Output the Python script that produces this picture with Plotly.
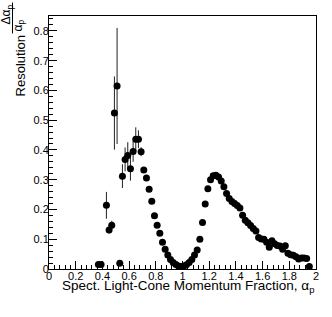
import plotly.graph_objects as go

alpha = [0.37,0.39,0.43,0.45,0.47,0.49,0.51,0.53,0.55,0.57,0.59,0.61,0.63,0.65,0.67,0.69,0.71,0.73,0.75,0.77,
         0.79,0.81,0.83,0.85,0.87,0.89,0.91,0.93,0.95,0.97,0.99,1.01,1.03,1.05,1.07,1.09,1.11,1.13,1.15,1.17,
         1.19,1.21,1.23,1.25,1.27,1.29,1.31,1.33,1.35,1.37,1.39,1.41,1.43,1.45,1.47,1.49,1.51,1.53,1.55,1.57,
         1.59,1.61,1.63,1.65,1.67,1.69,1.71,1.73,1.75,1.77,1.79,1.81,1.83,1.85,1.87,1.89,1.91,1.93,1.95]
resolution = [0.015,0.015,0.214,0.131,0.147,0.524,0.615,0.019,0.312,0.368,0.381,0.337,0.395,0.436,0.436,0.394,0.333,0.306,0.268,0.228,
              0.179,0.147,0.120,0.090,0.066,0.047,0.032,0.022,0.015,0.010,0.008,0.010,0.014,0.022,0.032,0.047,0.064,0.100,0.156,0.218,
              0.270,0.300,0.313,0.315,0.309,0.296,0.276,0.254,0.237,0.227,0.220,0.213,0.205,0.181,0.164,0.155,0.146,0.136,0.128,0.106,
              0.101,0.100,0.090,0.073,0.095,0.085,0.079,0.077,0.066,0.078,0.053,0.048,0.046,0.041,0.034,0.037,0.037,0.035,0.008]
errors = [0.003,0.003,0.045,0.012,0.015,0.123,0.195,0.003,0.040,0.040,0.045,0.040,0.035,0.040,0.030,0.015,0.008,0.006,0.005,0.004,
          0.003,0.003,0.003,0.003,0.002,0.002,0.002,0.002,0.002,0.002,0.002,0.002,0.002,0.002,0.002,0.002,0.002,0.003,0.003,0.003,
          0.003,0.003,0.003,0.003,0.003,0.003,0.003,0.003,0.003,0.003,0.003,0.003,0.003,0.003,0.003,0.003,0.003,0.003,0.003,0.003,
          0.003,0.003,0.003,0.003,0.003,0.003,0.003,0.003,0.003,0.003,0.003,0.003,0.003,0.003,0.003,0.003,0.003,0.003,0.003]

FONT = "Liberation Sans, Arial, sans-serif"
W, H = 332, 317
L, R, T, B = 49, 316, 15.5, 269

def px(xp):
    return (xp - L) / (R - L)

def py(yp):
    return (B - yp) / (B - T)

fig = go.Figure()
fig.add_trace(go.Scatter(
    x=alpha, y=resolution, mode="markers",
    marker=dict(color="black", size=7),
    error_y=dict(type="data", array=errors, visible=True, color="#222", thickness=1, width=0),
    showlegend=False, cliponaxis=False,
))

axis_common = dict(
    showgrid=False, zeroline=False, showline=True, linecolor="black", linewidth=1,
    mirror=True, ticks="inside", ticklen=8, tickcolor="black", tickwidth=1,
    tickfont=dict(family=FONT, size=11, color="black"),
)
fig.update_xaxes(range=[0, 2], dtick=0.2, tick0=0, ticklabelstandoff=-3,
                 minor=dict(ticks="inside", ticklen=4, dtick=0.04, tickcolor="black", showgrid=False),
                 tickformat="~g", **axis_common)
fig.update_yaxes(range=[0, 0.85], dtick=0.1, tick0=0, ticklabelstandoff=-3,
                 minor=dict(ticks="inside", ticklen=4, dtick=0.02, tickcolor="black", showgrid=False),
                 tickformat="~g", **axis_common)

anns = [
    dict(text="Spect. Light-Cone Momentum Fraction, α<sub>p</sub>", x=1.0, y=py(287),
         xanchor="right", yanchor="middle", font=dict(size=13.5)),
    dict(text="Resolution", x=px(20), y=py(66), xanchor="center", yanchor="middle",
         textangle=-90, font=dict(size=13)),
    dict(text="Δα<sub>p</sub>", x=px(7), y=py(14), xanchor="center", yanchor="middle",
         textangle=-90, font=dict(size=12)),
    dict(text="α<sub>p</sub>", x=px(19), y=py(25), xanchor="center", yanchor="middle",
         textangle=-90, font=dict(size=12)),
]
for a in anns:
    a.update(xref="paper", yref="paper", showarrow=False)
    a["font"].update(family=FONT, color="black")
    fig.add_annotation(**a)

fig.add_shape(type="line", xref="paper", yref="paper",
              x0=px(12.5), x1=px(12.5), y0=py(2), y1=py(33),
              line=dict(color="black", width=1))

fig.update_layout(
    width=W, height=H,
    margin=dict(l=L, r=W - R, t=T, b=H - B, pad=0),
    paper_bgcolor="white", plot_bgcolor="white",
    font=dict(family=FONT, color="black"),
)
fig.write_html("out.html", config={"displayModeBar": False},
               post_script="document.body.style.margin='0';")
